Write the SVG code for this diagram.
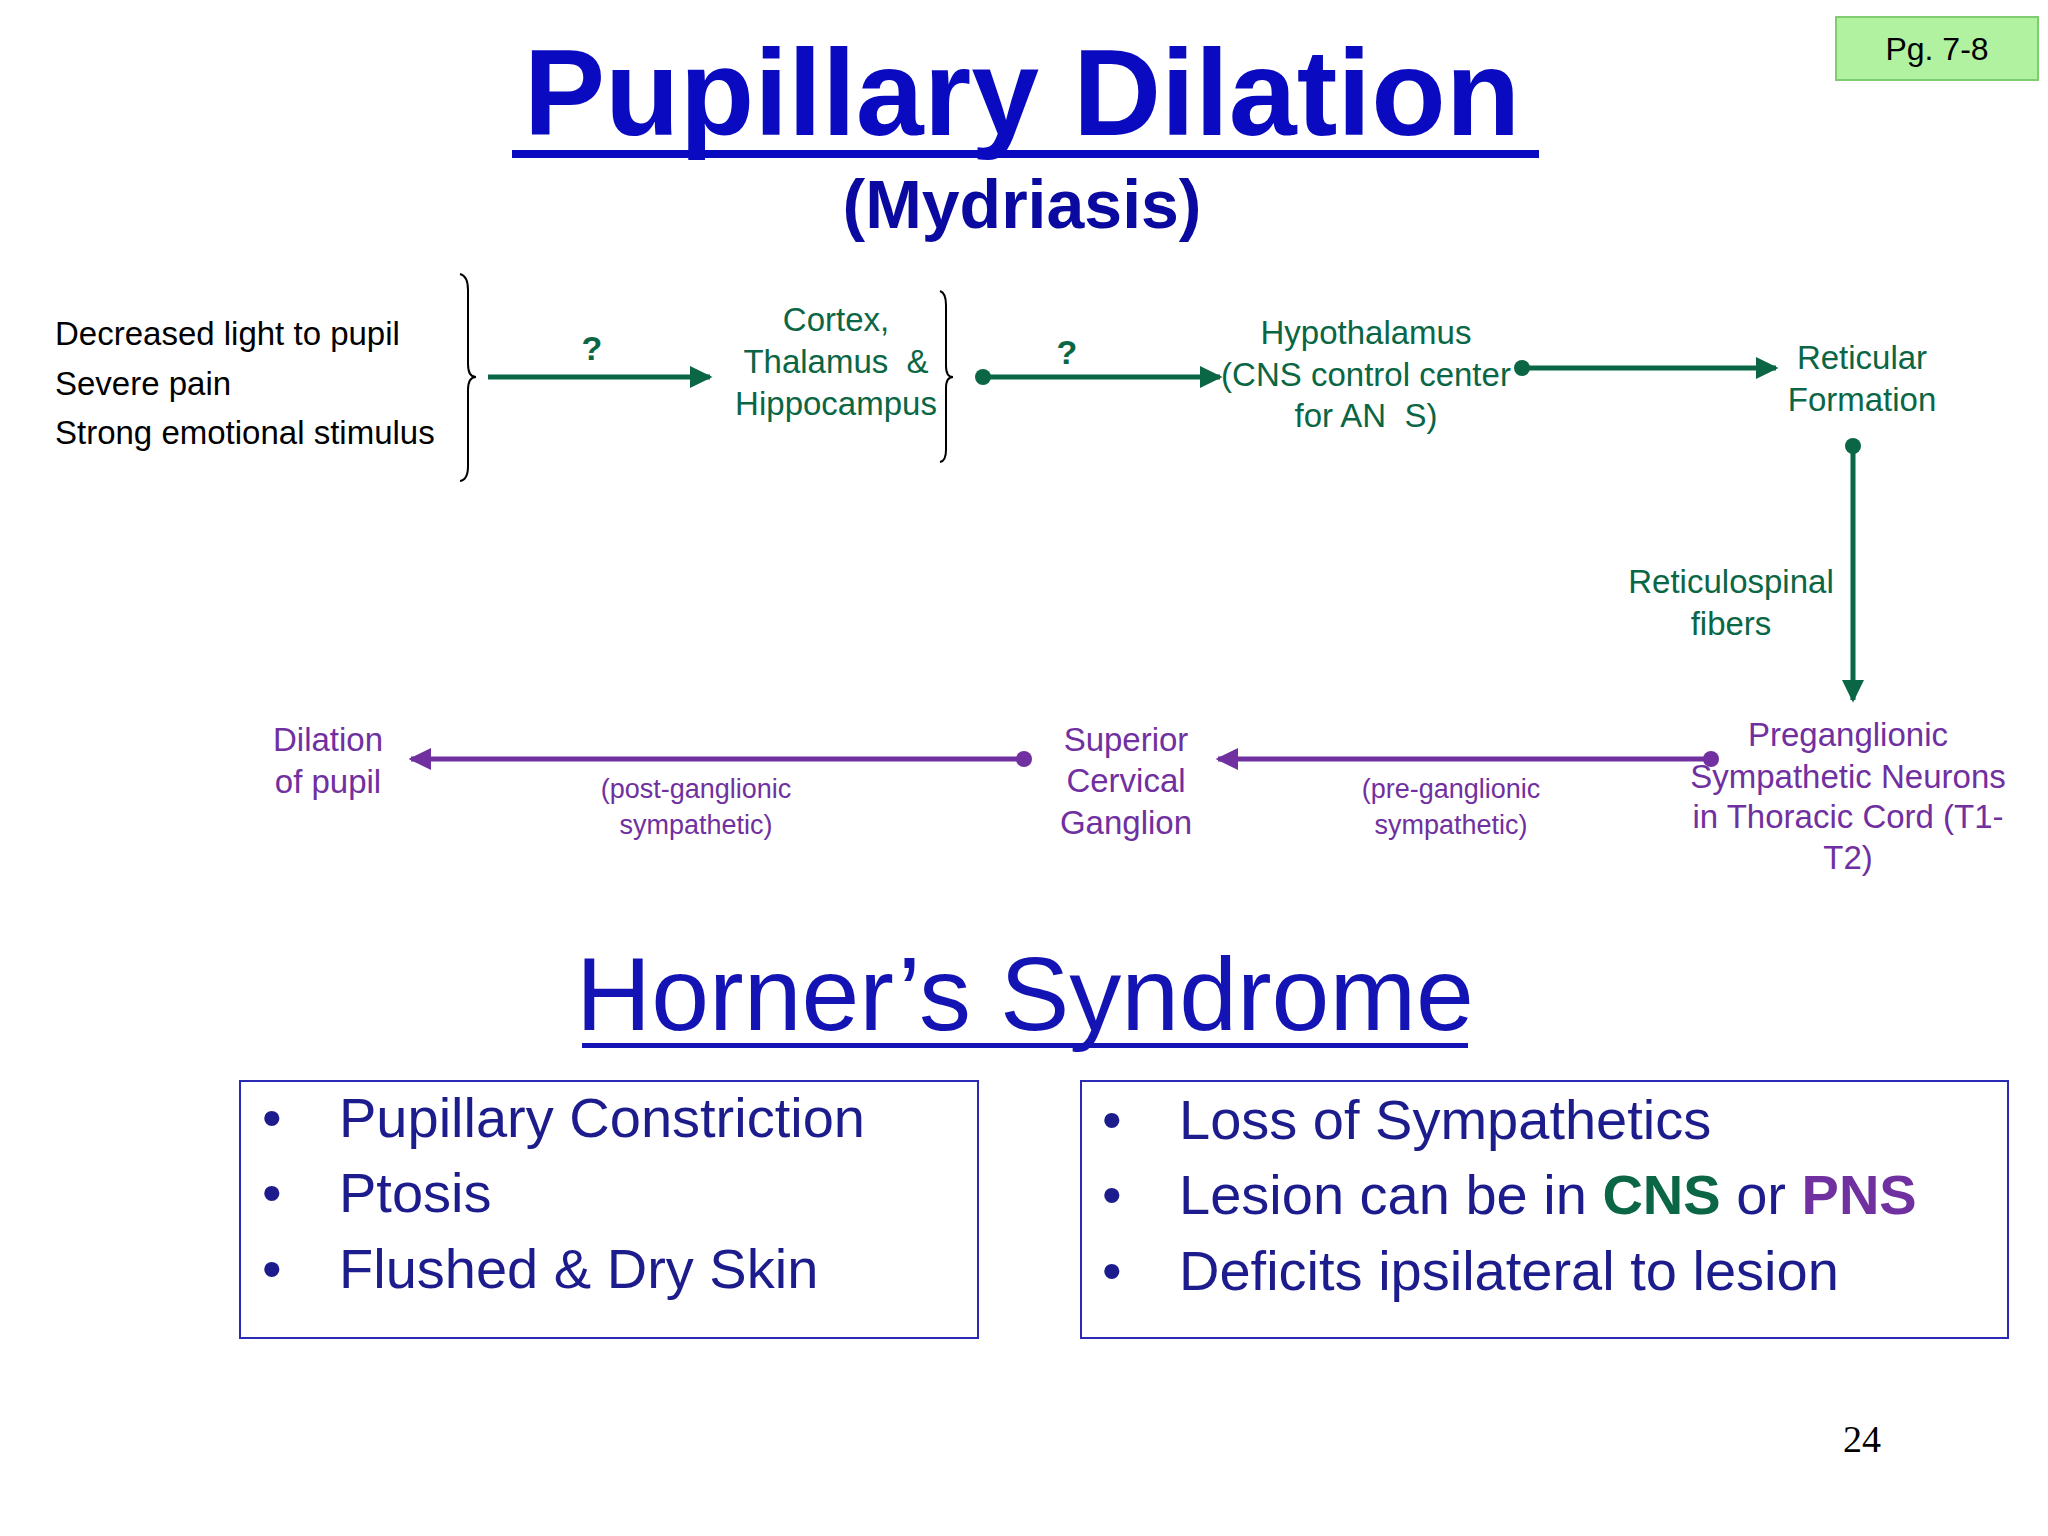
<svg xmlns="http://www.w3.org/2000/svg" width="2048" height="1536" viewBox="0 0 2048 1536">
<defs>
<style>
text{font-family:"Liberation Sans",Arial,sans-serif}
.g{fill:#0a6644}.p{fill:#7030a0}.k{fill:#000}
.m{text-anchor:middle}
.n{font-size:33px}
.s{font-size:27px}
.b{font-size:56px;fill:#1c1c8c}
.gl{stroke:#0a6644;stroke-width:5;fill:none}
.pl{stroke:#7030a0;stroke-width:5;fill:none}
.br{stroke:#000;stroke-width:2;fill:none}
</style>
<marker id="ag" markerWidth="4.5" markerHeight="4.4" refX="4" refY="2.2" orient="auto" markerUnits="strokeWidth"><path d="M0,0L4.5,2.2L0,4.4z" fill="#0a6644"/></marker>
<marker id="ap" markerWidth="4.5" markerHeight="4.4" refX="4" refY="2.2" orient="auto" markerUnits="strokeWidth"><path d="M0,0L4.5,2.2L0,4.4z" fill="#7030a0"/></marker>
</defs>
<rect width="2048" height="1536" fill="#fff"/>
<g id="title">
<text x="1022" y="135" class="m" style="font-size:122px;font-weight:bold;fill:#0a0ac0">Pupillary Dilation</text>
<rect x="512" y="150" width="1027" height="8" fill="#0a0ac0"/>
<text x="1022" y="228" class="m" style="font-size:68px;font-weight:bold;fill:#0a0aa0">(Mydriasis)</text>
</g>
<g id="page">
<rect x="1836" y="17" width="202" height="63" fill="#b0f2a0" stroke="#80cc70" stroke-width="2"/>
<text x="1937" y="60" class="m" style="font-size:32px">Pg. 7-8</text>
</g>
<g id="stimuli">
<text x="55" y="345" class="n k">Decreased light to pupil</text>
<text x="55" y="395" class="n k">Severe pain</text>
<text x="55" y="444" class="n k">Strong emotional stimulus</text>
<path class="br" d="M460,274 Q468,276 468,290 L468,364 Q468,377 476,377 Q468,377 468,390 L468,466 Q468,480 460,481"/>
</g>
<g id="cortex">
<text x="836" y="331" class="n g m">Cortex,</text>
<text x="836" y="373" class="n g m">Thalamus &#160;&amp;</text>
<text x="836" y="415" class="n g m">Hippocampus</text>
<path class="br" d="M940,291 Q946,293 946,305 L946,366 Q946,377 953,377 Q946,377 946,388 L946,450 Q946,461 940,462"/>
</g>
<g id="hypothalamus">
<text x="1366" y="344" class="n g m">Hypothalamus</text>
<text x="1366" y="386" class="n g m">(CNS control center</text>
<text x="1366" y="427" class="n g m">for AN &#160;S)</text>
</g>
<g id="reticular">
<text x="1862" y="369" class="n g m">Reticular</text>
<text x="1862" y="411" class="n g m">Formation</text>
</g>
<g id="preganglionic">
<text x="1848" y="746" class="n p m">Preganglionic</text>
<text x="1848" y="788" class="n p m">Sympathetic Neurons</text>
<text x="1848" y="828" class="n p m">in Thoracic Cord (T1-</text>
<text x="1848" y="869" class="n p m">T2)</text>
</g>
<g id="scg">
<text x="1126" y="751" class="n p m">Superior</text>
<text x="1126" y="792" class="n p m">Cervical</text>
<text x="1126" y="834" class="n p m">Ganglion</text>
</g>
<g id="dilation">
<text x="328" y="751" class="n p m">Dilation</text>
<text x="328" y="793" class="n p m">of pupil</text>
</g>
<g id="connectors">
<line class="gl" x1="488" y1="377" x2="710" y2="377" marker-end="url(#ag)"/>
<text x="592" y="360" class="m g" style="font-size:34px;font-weight:bold">?</text>
<circle cx="983" cy="377" r="8" fill="#0a6644"/>
<line class="gl" x1="983" y1="377" x2="1220" y2="377" marker-end="url(#ag)"/>
<text x="1067" y="364" class="m g" style="font-size:34px;font-weight:bold">?</text>
<circle cx="1522" cy="368" r="8" fill="#0a6644"/>
<line class="gl" x1="1522" y1="368" x2="1776" y2="368" marker-end="url(#ag)"/>
<circle cx="1853" cy="446" r="8" fill="#0a6644"/>
<line class="gl" x1="1853" y1="446" x2="1853" y2="700" marker-end="url(#ag)"/>
<text x="1731" y="593" class="n g m">Reticulospinal</text>
<text x="1731" y="635" class="n g m">fibers</text>
<circle cx="1711" cy="759" r="8" fill="#7030a0"/>
<line class="pl" x1="1711" y1="759" x2="1218" y2="759" marker-end="url(#ap)"/>
<text x="1451" y="798" class="s p m">(pre-ganglionic</text>
<text x="1451" y="834" class="s p m">sympathetic)</text>
<circle cx="1024" cy="759" r="8" fill="#7030a0"/>
<line class="pl" x1="1024" y1="759" x2="411" y2="759" marker-end="url(#ap)"/>
<text x="696" y="798" class="s p m">(post-ganglionic</text>
<text x="696" y="834" class="s p m">sympathetic)</text>
</g>
<g id="horner">
<text x="1025" y="1030" class="m" style="font-size:104px;fill:#1414b4">Horner’s Syndrome</text>
<rect x="582" y="1043" width="886" height="5" fill="#1414b4"/>
</g>
<g id="box-left">
<rect x="240" y="1081" width="738" height="257" fill="none" stroke="#2a2ab4" stroke-width="2"/>
<text x="262" y="1137" class="b">•</text><text x="339" y="1137" class="b">Pupillary Constriction</text>
<text x="262" y="1212" class="b">•</text><text x="339" y="1212" class="b">Ptosis</text>
<text x="262" y="1288" class="b">•</text><text x="339" y="1288" class="b">Flushed &amp; Dry Skin</text>
</g>
<g id="box-right">
<rect x="1081" y="1081" width="927" height="257" fill="none" stroke="#2a2ab4" stroke-width="2"/>
<text x="1102" y="1139" class="b">•</text><text x="1179" y="1139" class="b">Loss of Sympathetics</text>
<text x="1102" y="1214" class="b">•</text><text x="1179" y="1214" class="b">Lesion can be in <tspan style="font-weight:bold;fill:#0a6644">CNS</tspan> or <tspan style="font-weight:bold;fill:#7030a0">PNS</tspan></text>
<text x="1102" y="1290" class="b">•</text><text x="1179" y="1290" class="b">Deficits ipsilateral to lesion</text>
</g>
<text x="1862" y="1452" class="m" style="font-family:'Liberation Serif',serif;font-size:38px">24</text>
</svg>
